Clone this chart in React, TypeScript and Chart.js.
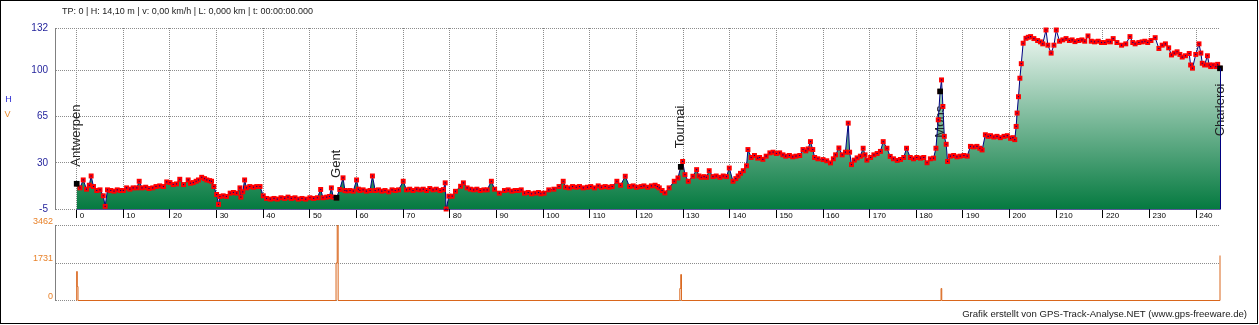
import React, { useEffect, useRef } from "react";
import { Chart, registerables } from "chart.js";

Chart.register(...registerables);

// ---------- data ----------
const distKm = [
  0, 0.7, 1.4, 2.1, 2.7, 3.1, 3.6, 4.3, 5.0, 5.7,
  6.1, 6.6, 7.3, 8.0, 8.7, 9.4, 10.0, 10.7, 11.4, 12.1,
  12.9, 13.4, 14.0, 14.8, 15.5, 16.3, 17.0, 17.8, 18.6, 19.3,
  20.0, 20.7, 21.4, 22.1, 22.9, 23.9, 24.4, 25.0, 25.6, 26.1,
  26.8, 27.4, 27.9, 28.5, 28.9, 29.4, 30.0, 30.4, 30.7, 31.4,
  32.1, 32.9, 33.6, 34.3, 35.0, 35.2, 35.6, 36.0, 36.4, 37.1,
  37.9, 38.6, 39.3, 40.0, 40.7, 41.5, 42.3, 43.0, 43.8, 44.6,
  45.3, 46.0, 46.8, 47.5, 48.3, 49.1, 50.0, 50.8, 51.6, 52.3,
  52.8, 53.6, 54.2, 54.6, 55.0, 55.7, 56.4, 57.1, 57.5, 57.9,
  58.6, 59.3, 60.0, 60.4, 60.7, 61.4, 62.1, 62.9, 63.4, 64.0,
  64.7, 65.4, 66.1, 66.9, 67.6, 68.3, 69.0, 70.0, 70.7, 71.4,
  72.1, 72.9, 73.6, 74.3, 75.0, 75.7, 76.4, 77.1, 77.9, 78.6,
  79.0, 79.2, 79.8, 80.5, 81.2, 82.3, 82.9, 83.7, 84.4, 85.1,
  85.8, 86.5, 87.3, 88.0, 88.9, 89.6, 90.6, 91.7, 92.5, 93.3,
  94.0, 94.6, 95.3, 96.0, 96.8, 97.5, 98.3, 99.0, 99.5, 100.2,
  101.2, 102.3, 103.4, 104.3, 104.8, 105.6, 106.3, 107.1, 107.8, 108.6,
  109.5, 110.2, 111.0, 111.8, 112.5, 113.3, 114.1, 114.8, 115.8, 116.6,
  117.6, 118.5, 119.3, 120.0, 121.0, 121.6, 122.4, 123.2, 124.0, 124.5,
  124.9, 125.5, 126.1, 127.0, 128.1, 128.9, 129.5, 129.9, 130.4, 131.1,
  132.1, 132.9, 133.4, 133.9, 134.5, 135.0, 135.6, 136.4, 137.1, 137.9,
  138.6, 139.3, 139.9, 140.7, 141.3, 141.8, 142.3, 142.9, 143.6, 143.9,
  144.6, 145.3, 146.0, 146.4, 147.1, 147.8, 148.6, 149.3, 150.0, 150.7,
  151.4, 152.0, 152.8, 153.5, 154.2, 155.0, 155.7, 156.3, 156.8, 157.3,
  157.8, 158.2, 158.9, 160.0, 160.8, 161.6, 162.2, 162.7, 163.4, 164.1,
  164.8, 165.4, 165.7, 166.1, 166.7, 167.3, 168.0, 168.6, 169.0, 169.4,
  170.2, 170.9, 171.6, 172.3, 172.9, 173.7, 174.4, 175.1, 175.9, 176.6,
  177.3, 177.9, 178.7, 179.4, 180.1, 180.9, 181.6, 182.3, 183.0, 183.7,
  184.2, 184.7, 185.1, 185.4, 185.7, 186.0, 186.4, 186.7, 187.3, 188.0,
  188.7, 189.4, 190.2, 190.9, 191.6, 192.3, 193.0, 193.6, 194.1, 194.8,
  195.4, 195.9, 196.6, 197.3, 198.0, 198.8, 199.5, 200.2, 200.7, 201.1,
  201.4, 201.6, 201.9, 202.2, 202.5, 202.9, 203.5, 204.0, 204.5, 205.2,
  206.0, 206.6, 207.1, 207.8, 208.2, 208.9, 209.5, 210.0, 210.7, 211.4,
  212.1, 212.8, 213.4, 214.0, 214.8, 215.5, 216.1, 216.8, 217.5, 218.2,
  219.0, 219.7, 220.4, 221.1, 221.6, 222.2, 223.0, 224.0, 224.9, 225.8,
  226.4, 226.9, 227.7, 228.4, 229.0, 229.6, 230.3, 231.2, 232.0, 232.7,
  233.4, 234.1, 234.7, 235.3, 235.9, 236.5, 237.0, 237.7, 238.5, 238.8,
  239.2, 239.9, 240.6, 241.0, 241.3, 241.8, 242.4, 242.8, 243.1, 243.6,
  244.2, 244.6, 245.1,
];

const elevM = [
  14.1, 11, 17, 10, 13, 20, 12, 9, 9.5, 5,
  -3, 9.5, 9, 8.5, 9.5, 9, 9, 11, 10, 11,
  11, 16, 11, 11.5, 10.5, 11, 12, 12.5, 12, 15.5,
  15, 13.5, 14, 17.5, 13.5, 17, 14.5, 15, 16, 17,
  19, 18, 17, 16.5, 16, 12, 6, -1.5, 4.5, 5,
  4.5, 7, 7.5, 7, 11, 4, 8, 17, 11, 12,
  11.5, 12, 12, 5, 3, 2.5, 3, 2.5, 3.5, 3,
  4, 3, 3.5, 2.5, 3, 2.5, 3.5, 3, 3.5, 9.8,
  3.5, 4, 4.5, 11, 4, 3.5, 9.8, 18.6, 9, 8.7,
  9, 8.5, 17, 10, 9, 9.5, 8.5, 9, 20, 9,
  9.5, 8.5, 9, 8, 9.5, 9, 9.5, 16, 9.5, 10,
  9, 10, 9.5, 10, 9, 10.5, 9.5, 10, 9, 9.7,
  14.8, -5, 4.7, 4.7, 8.4, 12.2, 14.8, 11, 10, 9.5,
  10, 9, 9.5, 9.5, 16, 10, 7, 9, 9.5, 8.5,
  9, 9, 9.5, 7, 7.5, 6.5, 7, 7.5, 6.5, 7,
  9.5, 10, 12, 16, 11.5, 11, 12, 11.5, 12, 11,
  11.5, 12, 11, 12.5, 11.5, 12, 11.5, 12, 16, 13,
  19.8, 12, 12.5, 11.5, 12, 12.5, 11.5, 12.5, 13, 12,
  11, 9, 7.2, 11, 16, 18.5, 26.9, 31, 21, 16,
  19.8, 24.8, 20, 19, 19.5, 19, 24, 19.5, 20, 19,
  20, 19.5, 26, 16, 18, 20, 22, 24, 27.7, 40,
  34, 35.5, 33.5, 34, 32.6, 35, 37.5, 38, 37, 37.5,
  36, 35, 35.5, 34.5, 35, 35.5, 40, 39, 40.5, 46,
  40, 34, 33, 32.4, 31.5, 29.9, 33, 36, 41.2, 36,
  38, 60, 38, 28.6, 32, 33.7, 35, 41, 36, 32,
  34, 36, 37, 38.6, 46, 41, 34.8, 33, 31.8, 32.5,
  34, 41, 34, 33, 34, 33.5, 34, 30, 33, 33.5,
  41, 62.5, 84, 92.7, 72.6, 50, 44, 31, 35, 35.5,
  34.5, 35, 35.5, 35, 42.4, 42, 42.4, 41, 39.7, 51.2,
  50, 50.5, 49.5, 50, 49, 50, 50.5, 48.5, 49, 47.5,
  57.5, 67.6, 80, 94, 105, 120.5, 124.2, 125, 125.5, 124,
  122.5, 121.5, 120, 130.5, 119, 113, 119, 130.5, 122, 123,
  124, 122.5, 123, 121.7, 122.5, 123, 122, 126, 122, 121.5,
  122, 121, 121, 122, 121.5, 124, 121, 119, 120, 125.5,
  121, 120, 121, 121.5, 122, 121, 122.5, 124.7, 116.5, 119,
  120, 117, 111.6, 113, 114, 112, 110, 111, 112.7, 104,
  101.6, 112, 120, 113, 105.3, 104, 111, 104, 102.8, 104,
  102.8, 104.5, 101.5,
];

const wpNames = ["Antwerpen", "Gent", "Tournai", "Mons", "Charleroi"];
const wpKm = [0, 55.7, 129.5, 185.1, 245.1];
const wpElev = [14.1, 3.5, 26.9, 84, 101.5];
const wpLabelElev = [27, 18.5, 41, 49, 50];

const speedKm = [0, 0, 0.12, 0.28, 55.6, 55.85, 56.05, 129.3, 129.5, 129.65, 185.3, 185.45, 245.1];
const speedKmh = [0, 1339, 646, 0, 1731, 3462, 0, 554, 1200, 0, 554, 0, 2077];

const xTicks = [0, 10, 20, 30, 40, 50, 60, 70, 80, 90, 100, 110, 120, 130, 140, 150, 160, 170, 180, 190, 200, 210, 220, 230, 240];
const elevTicks = [-5, 30, 65, 100, 132];
const speedTicks = [0, 1731, 3462];
const xMin = -4.65;
const xMax = 245.1;

const titleText = "TP: 0 | H: 14,10 m | v: 0,00 km/h | L: 0,000 km | t: 00:00:00.000";
const footerText = "Grafik erstellt von GPS-Track-Analyse.NET (www.gps-freeware.de)";

const FONT = "'Liberation Sans', Arial, sans-serif";

export default function App() {
  const topRef = useRef<HTMLCanvasElement>(null);
  const botRef = useRef<HTMLCanvasElement>(null);

  useEffect(() => {
    const pts = distKm.map((k, i) => ({ x: k, y: elevM[i] }));

    const topPlugin = {
      id: "topDecor",
      beforeDatasetsDraw(chart: any) {
        const { ctx, scales } = chart;
        const x = scales.x;
        const y = scales.y;
        ctx.save();
        ctx.font = `13px ${FONT}`;
        ctx.fillStyle = "#222";
        ctx.textAlign = "left";
        ctx.textBaseline = "middle";
        wpNames.forEach((n, i) => {
          const px = x.getPixelForValue(wpKm[i]);
          const py = y.getPixelForValue(wpLabelElev[i]);
          ctx.save();
          ctx.translate(px, py);
          ctx.rotate(-Math.PI / 2);
          ctx.fillText(n, 0, 0);
          ctx.restore();
        });
        ctx.restore();
      },
      afterDatasetsDraw(chart: any) {
        const { ctx, scales } = chart;
        const x = scales.x;
        const y = scales.y;
        const x0 = x.getPixelForValue(distKm[0]);
        const x1 = x.getPixelForValue(distKm[distKm.length - 1]);
        const yb = Math.floor(y.getPixelForValue(elevTicks[0])) + 0.5;
        const yl = y.getPixelForValue(elevM[elevM.length - 1]);
        ctx.save();
        ctx.strokeStyle = "#000080";
        ctx.lineWidth = 1;
        ctx.setLineDash([1, 1]);
        ctx.beginPath();
        ctx.moveTo(x0, yb);
        ctx.lineTo(x1, yb);
        ctx.stroke();
        ctx.setLineDash([]);
        ctx.beginPath();
        ctx.moveTo(Math.floor(x1) + 0.5, yl);
        ctx.lineTo(Math.floor(x1) + 0.5, yb);
        ctx.stroke();
        ctx.restore();
      },
      afterDraw(chart: any) {
        const { ctx } = chart;
        ctx.save();
        ctx.font = `9px ${FONT}`;
        ctx.fillStyle = "#1a1a1a";
        ctx.textAlign = "left";
        ctx.textBaseline = "middle";
        ctx.fillText(titleText, 62, 12);
        ctx.textAlign = "center";
        ctx.fillStyle = "#2a2ad0";
        ctx.fillText("H", 8.5, 100);
        ctx.fillStyle = "#e8892b";
        ctx.fillText("V", 7.5, 114.5);
        ctx.restore();
      },
    };

    const fillGradient = (c: any) => {
      const chart = c.chart;
      const area = chart.chartArea;
      if (!area) return "rgba(0,120,60,0.5)";
      const g = chart.ctx.createLinearGradient(0, area.top, 0, area.bottom);
      g.addColorStop(0, "#f4faf6");
      g.addColorStop(1, "#057a40");
      return g;
    };

    const topChart = new Chart(topRef.current as HTMLCanvasElement, {
      type: "line",
      data: {
        datasets: [
          {
            // waypoint markers
            data: wpKm.map((k, i) => ({ x: k, y: wpElev[i] })),
            showLine: false,
            pointStyle: "rect",
            pointRadius: 4,
            pointBackgroundColor: "#000",
            pointBorderWidth: 0,
            borderWidth: 0,
            order: 0,
            clip: false,
          },
          {
            // navy centre dots on top of the red squares
            data: pts,
            showLine: false,
            pointStyle: "rect",
            pointRadius: 0.8,
            pointBackgroundColor: "#000080",
            pointBorderWidth: 0,
            borderWidth: 0,
            fill: false,
            order: 1,
            clip: false,
          },
          {
            // red squares
            data: pts,
            showLine: false,
            pointStyle: "rect",
            pointRadius: 3.5,
            pointBackgroundColor: "#ff0000",
            pointBorderWidth: 0,
            borderWidth: 0,
            fill: false,
            order: 2,
            clip: false,
          },
          {
            // fill + navy line underneath
            data: pts,
            borderColor: "#000080",
            borderWidth: 1,
            pointRadius: 0,
            fill: "start",
            backgroundColor: fillGradient,
            tension: 0,
            order: 3,
            clip: false,
          },
        ],
      } as any,
      options: {
        responsive: false,
        animation: false,
        devicePixelRatio: 1,
        events: [],
        layout: { padding: { top: 28, right: 39, left: 0, bottom: 0 } },
        plugins: {
          legend: { display: false },
          tooltip: { enabled: false },
          filler: { drawTime: "beforeDatasetsDraw" },
        },
        scales: {
          x: {
            type: "linear",
            min: xMin,
            max: xMax,
            afterBuildTicks: (s: any) => {
              s.ticks = xTicks.map((v) => ({ value: v }));
            },
            afterFit: (s: any) => {
              s.height = 13;
            },
            grid: {
              color: "#8c8c8c",
              lineWidth: 1,
              drawTicks: true,
              tickLength: 9,
              tickColor: "#000",
              tickWidth: 1,
              tickBorderDash: [],
            },
            border: { display: false, dash: [1, 1] },
            ticks: {
              autoSkip: false,
              maxRotation: 0,
              minRotation: 0,
              align: "start",
              labelOffset: 3,
              padding: -7,
              color: "#000",
              font: { family: FONT, size: 8 },
              callback: (v: any) => String(v),
            },
          },
          y: {
            type: "linear",
            min: elevTicks[0],
            max: elevTicks[elevTicks.length - 1],
            afterBuildTicks: (s: any) => {
              s.ticks = elevTicks.map((v) => ({ value: v }));
            },
            afterFit: (s: any) => {
              s.width = 55;
            },
            grid: { color: "#8c8c8c", lineWidth: 1, drawTicks: false },
            border: { display: true, color: "#808080", width: 1, dash: [1, 1] },
            ticks: {
              padding: 7,
              color: "#1f1f9a",
              font: { family: FONT, size: 10 },
              callback: (v: any) => String(v),
            },
          },
        },
      } as any,
      plugins: [topPlugin],
    });

    const botPlugin = {
      id: "botDecor",
      afterDraw(chart: any) {
        const { ctx } = chart;
        ctx.save();
        ctx.font = `9.6px ${FONT}`;
        ctx.fillStyle = "#1a1a1a";
        ctx.textAlign = "right";
        ctx.textBaseline = "middle";
        ctx.fillText(footerText, 1247, 99);
        ctx.restore();
      },
    };

    const botChart = new Chart(botRef.current as HTMLCanvasElement, {
      type: "line",
      data: {
        datasets: [
          {
            data: speedKm.map((k, i) => ({ x: k, y: speedKmh[i] })),
            borderColor: "#d9661c",
            borderWidth: 1,
            pointRadius: 0,
            stepped: "before",
            fill: false,
            clip: false,
          },
        ],
      } as any,
      options: {
        responsive: false,
        animation: false,
        devicePixelRatio: 1,
        events: [],
        layout: { padding: { top: 10.5, right: 39, left: 0, bottom: 24.5 } },
        plugins: {
          legend: { display: false },
          tooltip: { enabled: false },
        },
        scales: {
          x: { type: "linear", display: false, min: xMin, max: xMax },
          y: {
            type: "linear",
            min: speedTicks[0],
            max: speedTicks[speedTicks.length - 1],
            afterBuildTicks: (s: any) => {
              s.ticks = speedTicks.map((v) => ({ value: v }));
            },
            afterFit: (s: any) => {
              s.width = 55;
            },
            grid: { color: "#8c8c8c", lineWidth: 1, drawTicks: false },
            border: { display: true, color: "#808080", width: 1, dash: [1, 1] },
            ticks: {
              padding: 2,
              labelOffset: -4,
              color: "#e8822a",
              font: { family: FONT, size: 9 },
              callback: (v: any) => String(v),
            },
          },
        },
      } as any,
      plugins: [botPlugin],
    });

    return () => {
      topChart.destroy();
      botChart.destroy();
    };
  }, []);

  return (
    <div
      style={{
        position: "fixed",
        left: 0,
        top: 0,
        width: 1259,
        height: 325,
        background: "#fff",
        overflow: "hidden",
      }}
    >
      <canvas
        ref={topRef}
        width={1259}
        height={222}
        style={{ position: "absolute", left: 0, top: 0, width: 1259, height: 222 }}
      />
      <canvas
        ref={botRef}
        width={1259}
        height={110}
        style={{ position: "absolute", left: 0, top: 215, width: 1259, height: 110 }}
      />
      <div
        style={{
          position: "absolute",
          left: 0,
          top: 0,
          width: 1258,
          height: 324,
          border: "1px solid #000",
          boxSizing: "border-box",
          pointerEvents: "none",
        }}
      />
    </div>
  );
}
